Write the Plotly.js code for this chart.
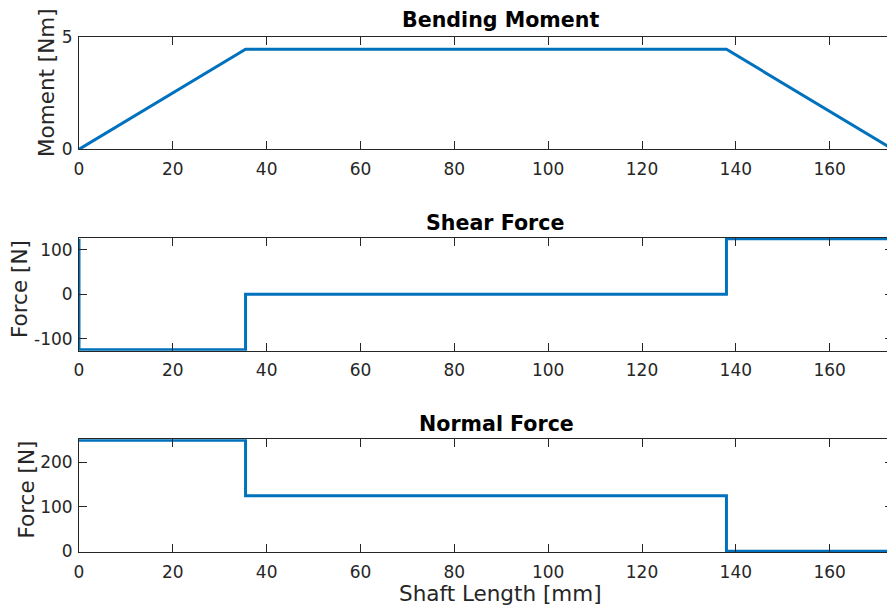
<!DOCTYPE html>
<html>
<head>
<meta charset="utf-8">
<script src="https://cdn.plot.ly/plotly-3.0.1.min.js"></script>
<style>
html,body{margin:0;padding:0;overflow:hidden;background:#fff;}
#chart{width:940px;height:612px;}
</style>
</head>
<body>
<div id="chart"></div>
<script>
// ---- data ----
const momentX = [0, 35.5, 138, 173.5];
const momentY = [0, 4.44, 4.44, 0];
const shearX = [0, 0, 35.5, 35.5, 138, 138, 173.5];
const shearY = [125, -125, -125, 0, 0, 125, 125];
const normalX = [0, 35.5, 35.5, 138, 138, 173.5];
const normalY = [250, 250, 125, 125, 0, 0];
const xTickVals = [0, 20, 40, 60, 80, 100, 120, 140, 160];
const momentTickVals = [0, 5];
const shearTickVals = [-100, 0, 100];
const shearTickText = ['-100', '0', '100'];
const normalTickVals = [0, 100, 200];
const titles = ['Bending Moment', 'Shear Force', 'Normal Force'];
const yTitles = ['Moment [Nm]', 'Force [N]', 'Force [N]'];
const xTitle = 'Shaft Length [mm]';

// ---- layout helpers ----
const W = 940, H = 612, L = 79, R = 47;
const PW = W - L - R;
const px = v => (v - L) / PW;
const py = v => 1 - v / H;

const lineColor = '#0072BD';
const axisColor = '#262626';
const font = 'DejaVu Sans';

function xax(anchor) {
  return {
    range: [0, 173.5], anchor: anchor, tickvals: xTickVals,
    showline: true, mirror: 'ticks', linecolor: axisColor, linewidth: 1,
    ticks: 'inside', ticklen: 8, tickcolor: axisColor, tickwidth: 1,
    showgrid: false, zeroline: false,
    tickfont: {family: font, size: 17, color: axisColor},
    ticklabelstandoff: 4
  };
}
// top/bottom: pixel rows of the data limits lo/hi; pad widens the frame so thick lines are not cut
function yax(anchor, top, bottom, lo, hi, vals, text, pad) {
  const upp = (hi - lo) / (bottom - top);
  const a = {
    domain: [py(bottom + pad), py(top - pad)],
    range: [lo - pad * upp, hi + pad * upp], anchor: anchor, tickvals: vals,
    showline: true, mirror: 'ticks', linecolor: axisColor, linewidth: 1,
    ticks: 'inside', ticklen: 8, tickcolor: axisColor, tickwidth: 1,
    showgrid: false, zeroline: false,
    tickfont: {family: font, size: 17, color: axisColor},
    ticklabelstandoff: 2
  };
  if (text) a.ticktext = text;
  return a;
}

const tr = (x, y, xa, ya) => ({
  x: x, y: y, xaxis: xa, yaxis: ya, type: 'scatter', mode: 'lines',
  line: {color: lineColor, width: 3}, hoverinfo: 'none', showlegend: false
});

const data = [
  tr(momentX, momentY, 'x', 'y'),
  tr(shearX, shearY, 'x2', 'y2'),
  tr(normalX, normalY, 'x3', 'y3')
];

const titleCenters = [[500, 20.3], [494.5, 223.3], [496.7, 423.8]];
const yTitlePos = [[46.5, 82.5], [19, 289], [25.5, 490]];

const ann = [];
titles.forEach((t, i) => ann.push({
  text: '<b>' + t + '</b>', xref: 'paper', yref: 'paper',
  x: px(titleCenters[i][0]), y: py(titleCenters[i][1]),
  xanchor: 'center', yanchor: 'middle', showarrow: false,
  font: {family: font, size: 20.6, color: '#000'}
}));
yTitles.forEach((t, i) => ann.push({
  text: t, xref: 'paper', yref: 'paper', textangle: -90,
  x: px(yTitlePos[i][0]), y: py(yTitlePos[i][1]),
  xanchor: 'center', yanchor: 'middle', showarrow: false,
  font: {family: font, size: 21.5, color: axisColor}
}));
ann.push({
  text: xTitle, xref: 'paper', yref: 'paper',
  x: px(500), y: py(593), xanchor: 'center', yanchor: 'middle',
  showarrow: false, font: {family: font, size: 21.5, color: axisColor}
});

const layout = {
  width: W, height: H,
  margin: {l: L, r: R, t: 0, b: 0},
  paper_bgcolor: '#fff', plot_bgcolor: '#fff',
  xaxis: xax('y'),
  xaxis2: xax('y2'),
  xaxis3: xax('y3'),
  yaxis: yax('x', 36.7, 149.3, 0, 5, momentTickVals, null, 0),
  yaxis2: yax('x2', 238.7, 349.7, -125, 125, shearTickVals, shearTickText, 1),
  yaxis3: yax('x3', 440.3, 551.3, 0, 250, normalTickVals, null, 1),
  annotations: ann
};

Plotly.newPlot('chart', data, layout, {displayModeBar: false, staticPlot: true});
</script>
</body>
</html>
